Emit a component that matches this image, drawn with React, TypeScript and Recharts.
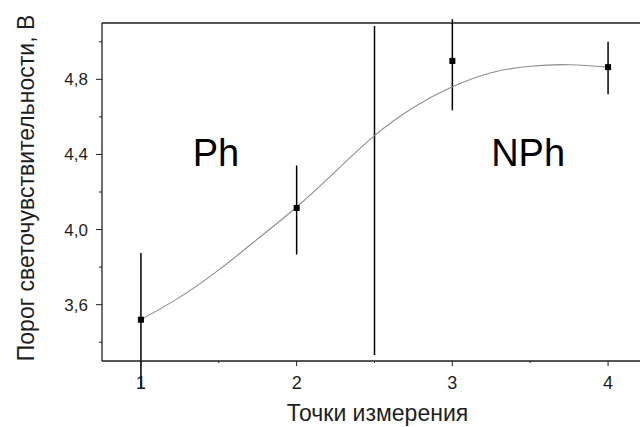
import React from "react";
import { ComposedChart, Line, Scatter, XAxis, YAxis, ReferenceLine, ReferenceDot } from "recharts";

// measured points with error bars
const measurePoints = [1, 2, 3, 4];
const thresholdValues = [3.52, 4.115, 4.898, 4.865];
const errorLow = [3.156, 3.867, 4.635, 4.72];
const errorHigh = [3.875, 4.341, 5.12, 5.0];

// fitted curve
const fitX = [1, 1.25, 1.5, 1.75, 2, 2.25, 2.5, 2.75, 3, 3.25, 3.5, 3.75, 4];
const fitY = [3.52, 3.64, 3.785, 3.95, 4.12, 4.31, 4.5, 4.65, 4.76, 4.835, 4.87, 4.878, 4.865];

const xTicks = [1, 1.5, 2, 2.5, 3, 3.5, 4];
const yTicks = [3.4, 3.6, 3.8, 4.0, 4.2, 4.4, 4.6, 4.8, 5.0];
const majorYTicks = [3.6, 4.0, 4.4, 4.8];

// Ph / NPh boundary
const dividerX = 2.5;
const dividerRange = [3.332, 5.084];
const regionNames = ["Ph", "NPh"];
const regionX = [1.332, 3.249];
const regionY = [4.336, 4.336];

const pointData = measurePoints.map((x, i) => ({ x, y: thresholdValues[i] }));
const fitData = fitX.map((x, i) => ({ x, y: fitY[i] }));

const FONT = "'Liberation Sans', Arial, sans-serif";
const INK = "#1e1e1e";

const XTick = (props: any) => {
  const { x, y, payload } = props;
  const v = payload.value;
  const major = Number.isInteger(v);
  return (
    <g>
      <line x1={x} y1={y} x2={x} y2={y + (major ? 5 : 2)} stroke={INK} strokeWidth={1} />
      {major && (
        <text x={x} y={y + 28} textAnchor="middle" fontSize={18} fill={INK} fontFamily={FONT}>
          {v}
        </text>
      )}
    </g>
  );
};

const YTick = (props: any) => {
  const { x, y, payload } = props;
  const v = payload.value;
  const major = majorYTicks.some((m) => Math.abs(m - v) < 1e-6);
  return (
    <g>
      <line x1={x - (major ? 6 : 3)} y1={y} x2={x} y2={y} stroke={INK} strokeWidth={1} />
      {major && (
        <text x={x - 14} y={y + 6} textAnchor="end" fontSize={17} fill={INK} fontFamily={FONT}>
          {v.toFixed(1).replace(".", ",")}
        </text>
      )}
    </g>
  );
};

const SquareDot = (props: any) => {
  const { cx, cy } = props;
  return <rect x={cx - 3} y={cy - 3} width={6} height={6} fill="#000" />;
};

export default function App() {
  return (
    <div style={{ position: "fixed", left: 0, top: 0, width: 640, height: 427, overflow: "hidden", background: "#fff" }}>
      <ComposedChart width={660} height={427} margin={{ top: 23, right: 13, left: 32, bottom: 4 }}>
        <XAxis
          dataKey="x"
          type="number"
          domain={[0.75, 4.25]}
          ticks={xTicks}
          interval={0}
          height={62}
          tickSize={0}
          tickMargin={0}
          tickLine={false}
          tick={<XTick />}
          axisLine={{ stroke: INK, strokeWidth: 1.3 }}
          label={{ value: "Точки измерения", position: "insideBottom", offset: 2, dx: 3, fontSize: 23, fill: INK, fontFamily: FONT }}
        />
        <YAxis
          dataKey="y"
          type="number"
          domain={[3.3, 5.1]}
          ticks={yTicks}
          interval={0}
          width={70}
          tickSize={0}
          tickMargin={0}
          tickLine={false}
          tick={<YTick />}
          axisLine={{ stroke: INK, strokeWidth: 1.3 }}
          label={{
            value: "Порог светочувствительности, В",
            angle: -90,
            position: "insideLeft",
            offset: -6,
            dy: -4,
            style: { textAnchor: "middle", fontSize: 23, fill: INK, fontFamily: FONT },
          }}
        />
        {/* frame top edge and right edge */}
        <ReferenceLine y={5.1} stroke={INK} strokeWidth={1.3} ifOverflow="visible" />
        <ReferenceLine x={4.25} stroke={INK} strokeWidth={1.3} ifOverflow="visible" />
        <ReferenceLine
          segment={[{ x: dividerX, y: dividerRange[0] }, { x: dividerX, y: dividerRange[1] }]}
          stroke="#000"
          strokeWidth={1.5}
          ifOverflow="visible"
        />
        {measurePoints.map((x, i) => (
          <ReferenceLine
            key={"err" + i}
            segment={[{ x, y: errorLow[i] }, { x, y: errorHigh[i] }]}
            stroke="#000"
            strokeWidth={1.5}
            ifOverflow="visible"
          />
        ))}
        {regionNames.map((name, i) => (
          <ReferenceDot
            key={name}
            x={regionX[i]}
            y={regionY[i]}
            r={0}
            ifOverflow="visible"
            shape={(p: any) => (
              <text x={p.cx} y={p.cy} fontSize={38} fill="#000" fontFamily={FONT}>
                {name}
              </text>
            )}
          />
        ))}
        <Line
          data={fitData}
          dataKey="y"
          type="natural"
          stroke="#8c8c8c"
          strokeWidth={1.1}
          dot={false}
          activeDot={false}
          isAnimationActive={false}
        />
        <Scatter data={pointData} dataKey="y" shape={<SquareDot />} isAnimationActive={false} />
      </ComposedChart>
    </div>
  );
}
